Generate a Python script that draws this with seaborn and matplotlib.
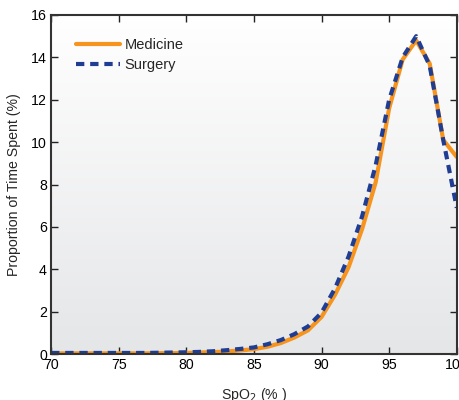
import numpy as np
import pandas as pd
import matplotlib
matplotlib.use("Agg")
import matplotlib.pyplot as plt
import seaborn as sns

spo2 = list(range(70, 101))
medicine = [0.03, 0.03, 0.03, 0.03, 0.03, 0.03, 0.03, 0.03, 0.04, 0.04,
            0.05, 0.07, 0.09, 0.12, 0.17, 0.23, 0.34, 0.52, 0.78, 1.12,
            1.75, 2.8, 4.1, 5.9, 8.1, 11.6, 13.9, 14.8, 13.7, 10.1, 9.3]
surgery = [0.05, 0.05, 0.05, 0.05, 0.05, 0.05, 0.05, 0.05, 0.06, 0.07,
           0.08, 0.10, 0.13, 0.18, 0.24, 0.31, 0.46, 0.66, 0.94, 1.3,
           1.95, 3.1, 4.6, 6.5, 8.9, 12.0, 14.0, 15.0, 13.6, 10.1, 6.9]
groups = ["Medicine", "Surgery"]
x_ticks = [70, 75, 80, 85, 90, 95, 100]
y_ticks = [0, 2, 4, 6, 8, 10, 12, 14, 16]

df = pd.DataFrame({
    "SpO2": spo2 * 2,
    "value": medicine + surgery,
    "group": [groups[0]] * len(spo2) + [groups[1]] * len(spo2),
})

sns.set_style("ticks")
plt.rcParams["font.family"] = ["Liberation Sans", "DejaVu Sans"]
fs = 10.2

fig = plt.figure(figsize=(4.6, 4.0), dpi=100)
ax = fig.add_axes([0.111, 0.115, 0.882, 0.8475])

# gradient background
grad = np.linspace(0, 1, 256).reshape(-1, 1)
cmap = matplotlib.colors.LinearSegmentedColormap.from_list("bg", ["#ffffff", "#e5e6e8"])
ax.imshow(grad, extent=[70, 100, 0, 16], aspect="auto", cmap=cmap,
          origin="upper", zorder=0)

palette = {"Medicine": "#f7941d", "Surgery": "#1f3d92"}
sns.lineplot(data=df, x="SpO2", y="value", hue="group", style="group",
             palette=palette, dashes={"Medicine": "", "Surgery": (2.0, 1.4)},
             linewidth=3.0, ax=ax, legend=True)

ax.set_xlim(70, 100)
ax.set_ylim(0, 16)
ax.set_xticks(x_ticks)
ax.set_yticks(y_ticks)
ax.tick_params(direction="in", length=5, width=1, top=True, right=True,
               labelsize=fs, colors="#222222", labelcolor="black", pad=3)
for s in ax.spines.values():
    s.set_linewidth(1.5)
    s.set_color("#333333")
ax.set_xlabel("SpO$_2$ (% )", fontsize=fs, labelpad=10)
ax.set_ylabel("Proportion of Time Spent (%)", fontsize=fs, labelpad=7)

leg = ax.legend(loc="upper left", frameon=False, fontsize=10.5,
                bbox_to_anchor=(0.03, 0.97), handlelength=3.0, handletextpad=0.3,
                labelspacing=0.4)

fig.savefig("out.png", dpi=100)
